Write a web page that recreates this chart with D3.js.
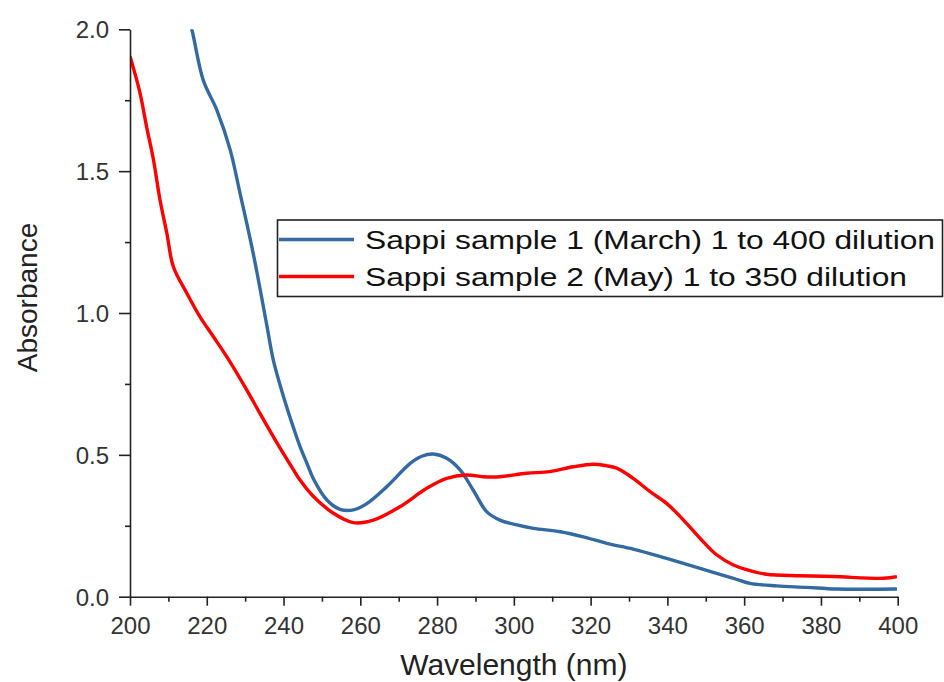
<!DOCTYPE html>
<html>
<head>
<meta charset="utf-8">
<script src="https://cdn.jsdelivr.net/npm/d3@7/dist/d3.min.js"></script>
<style>
  html, body { margin: 0; padding: 0; background: #fff; }
  svg { display: block; font-family: "Liberation Sans", Arial, sans-serif; }
</style>
</head>
<body>
<svg id="chart" width="944" height="682"></svg>
<script>
// UV-Vis absorbance spectra of two Sappi samples
const seriesNames = [
  "Sappi sample 1 (March) 1 to 400 dilution",
  "Sappi sample 2 (May) 1 to 350 dilution"
];
const seriesColors = ["#336aa1", "#ff0000"];

const sample1Wavelength = [215, 216.1, 219.1, 222.6, 226.1, 228.7, 232.1, 235.6, 237.4, 240, 242.6, 244.3, 246.1, 247.8, 251.3, 254.7, 258.2, 261.6, 266.9, 273, 276, 279, 282.5, 286, 289.4, 292.9, 296.4, 300.8, 305.1, 312.1, 318.1, 324.2, 331.1, 339.8, 348.5, 357.2, 361.5, 368.5, 376.3, 384.1, 399.8];
const sample1Absorbance = [2.05, 2.0, 1.82, 1.716, 1.575, 1.42, 1.21, 0.96, 0.83, 0.705, 0.595, 0.529, 0.47, 0.415, 0.341, 0.308, 0.306, 0.327, 0.388, 0.47, 0.495, 0.503, 0.488, 0.447, 0.376, 0.300, 0.27, 0.253, 0.241, 0.229, 0.211, 0.188, 0.168, 0.135, 0.1, 0.065, 0.047, 0.038, 0.033, 0.027, 0.027];

const sample2Wavelength = [200, 202.6, 204.3, 206.1, 207.8, 209.6, 211.3, 214.8, 218.2, 221.7, 225.2, 230.4, 233.9, 238.6, 242.6, 244.3, 247.8, 253, 258.2, 263.4, 270.3, 277.3, 282.5, 287.7, 292, 296.4, 303.3, 309.4, 315.5, 320.7, 324, 326.8, 331.1, 335.5, 339.8, 344.2, 348.5, 352.9, 357.2, 361.5, 365.9, 374.6, 383.3, 396.3, 399.8];
const sample2Absorbance = [1.905, 1.776, 1.658, 1.541, 1.40, 1.281, 1.163, 1.07, 0.987, 0.917, 0.846, 0.729, 0.645, 0.535, 0.447, 0.411, 0.353, 0.294, 0.261, 0.27, 0.317, 0.382, 0.417, 0.429, 0.423, 0.423, 0.435, 0.441, 0.458, 0.467, 0.462, 0.453, 0.417, 0.370, 0.329, 0.27, 0.206, 0.147, 0.112, 0.092, 0.079, 0.074, 0.071, 0.065, 0.071];

const xTicks = [200, 220, 240, 260, 280, 300, 320, 340, 360, 380, 400];
const xMinorTicks = [210, 230, 250, 270, 290, 310, 330, 350, 370, 390];
const yTicks = [0.0, 0.5, 1.0, 1.5, 2.0];
const yMinorTicks = [0.25, 0.75, 1.25, 1.75];

const svg = d3.select("#chart");
const plotLeft = 130, plotRight = 897.7, plotTop = 29.3, plotBottom = 596.7;

const x = d3.scaleLinear().domain([200, 400]).range([plotLeft, plotRight]);
const y = d3.scaleLinear().domain([0, 2]).range([plotBottom, plotTop]);

// clip region for the plot area
svg.append("defs").append("clipPath").attr("id", "plotClip")
  .append("rect").attr("x", plotLeft).attr("y", plotTop)
  .attr("width", plotRight - plotLeft + 4).attr("height", plotBottom - plotTop);

const series = [
  { name: seriesNames[0], color: seriesColors[0], xs: sample1Wavelength, ys: sample1Absorbance },
  { name: seriesNames[1], color: seriesColors[1], xs: sample2Wavelength, ys: sample2Absorbance }
];

const line = d3.line()
  .x(d => x(d[0]))
  .y(d => y(d[1]))
  .curve(d3.curveCatmullRom.alpha(0.5));

const plot = svg.append("g").attr("clip-path", "url(#plotClip)");
series.forEach(s => {
  plot.append("path")
    .datum(s.xs.map((w, i) => [w, s.ys[i]]))
    .attr("fill", "none")
    .attr("stroke", s.color)
    .attr("stroke-width", 3.4)
    .attr("stroke-linejoin", "round")
    .attr("d", line);
});

// X axis
svg.append("g").attr("transform", `translate(0,${plotBottom})`)
  .call(d3.axisBottom(x).tickValues(xTicks).tickSize(9).tickSizeOuter(0).tickPadding(11).tickFormat(d3.format("d")));
svg.append("g").attr("transform", `translate(0,${plotBottom})`)
  .call(d3.axisBottom(x).tickValues(xMinorTicks).tickSize(5).tickFormat(""))
  .call(g => g.select(".domain").remove());

// Y axis
const yAxis = svg.append("g").attr("transform", `translate(${plotLeft},0)`)
  .call(d3.axisLeft(y).tickValues(yTicks).tickSize(11).tickSizeOuter(0).tickPadding(10).tickFormat(d3.format(".1f")));
svg.append("g").attr("transform", `translate(${plotLeft},0)`)
  .call(d3.axisLeft(y).tickValues(yMinorTicks).tickSize(5).tickFormat(""))
  .call(g => g.select(".domain").remove());

svg.selectAll(".domain").attr("stroke", "#222").attr("stroke-width", 1.6);
svg.selectAll(".tick line").attr("stroke", "#222").attr("stroke-width", 1.6);
svg.selectAll(".tick text")
  .attr("font-family", "'Liberation Sans', Arial, sans-serif")
  .attr("font-size", 24)
  .attr("fill", "#333");
yAxis.selectAll(".tick text").attr("dy", "0.36em");

// Axis titles
svg.append("text")
  .attr("x", x(300)).attr("y", 675)
  .attr("text-anchor", "middle")
  .attr("font-size", 30)
  .attr("fill", "#222")
  .text("Wavelength (nm)");

svg.append("text")
  .attr("transform", `translate(37,297.5) rotate(-90)`)
  .attr("text-anchor", "middle")
  .attr("font-size", 28)
  .attr("fill", "#222")
  .text("Absorbance");

// Legend
const legend = svg.append("g");
legend.append("rect")
  .attr("x", 277.5).attr("y", 220)
  .attr("width", 665).attr("height", 76.5)
  .attr("fill", "#fff")
  .attr("stroke", "#222").attr("stroke-width", 1.6);

const rowY = [239.5, 276.5];
const textWidths = [570, 542];
series.forEach((s, i) => {
  legend.append("line")
    .attr("x1", 279).attr("x2", 354)
    .attr("y1", rowY[i]).attr("y2", rowY[i])
    .attr("stroke", s.color).attr("stroke-width", 3.4);
  legend.append("text")
    .attr("x", 365).attr("y", rowY[i] + 9)
    .attr("font-size", 26)
    .attr("fill", "#111")
    .attr("textLength", textWidths[i])
    .attr("lengthAdjust", "spacingAndGlyphs")
    .text(s.name);
});
</script>
</body>
</html>
